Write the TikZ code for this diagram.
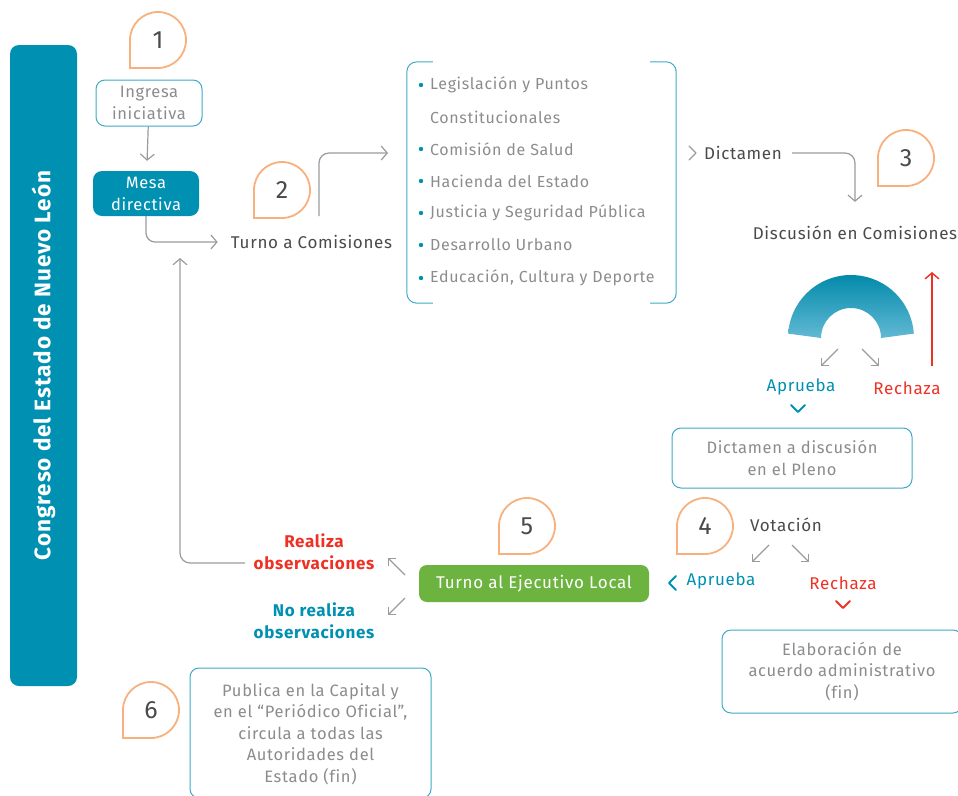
\documentclass[tikz,border=0pt]{standalone}
\usepackage{fontspec}
\setmainfont{Fira Sans}[LetterSpace=4,Ligatures=CommonOff]
\usetikzlibrary{arrows.meta,calc}
\definecolor{cteal}{HTML}{0090B2}
\definecolor{clight}{HTML}{62B9D4}
\definecolor{cbord}{HTML}{3FA9C6}
\definecolor{cgreen}{HTML}{6DB33F}
\definecolor{cred}{HTML}{EE3124}
\definecolor{corange}{HTML}{F8B07C}
\definecolor{cgray}{HTML}{9B9B9B}
\definecolor{cdark}{HTML}{4A4A4A}
\definecolor{cbox}{HTML}{8C8C8C}
\newcommand\bubble[4]{%
  \node[numtxt] (#1) at (#2,#3) {#4};
  \draw[bubbleline] (#2-28,#3) arc[start angle=180,end angle=450,radius=28] -- (#2-28,#3+28) -- cycle;}
\begin{document}
\begin{tikzpicture}[x=1pt,y=-1pt,
  boxw/.style={draw=cbord, line width=1pt, rounded corners=9pt, fill=white, align=center, text=cbox,
    font=\fontsize{16.5}{21.5}\selectfont, inner sep=0pt},
  boxf/.style={rounded corners=9pt, align=center, text=white, font=\fontsize{16.5}{22}\selectfont, inner sep=0pt},
  lbl/.style={text=cdark, font=\fontsize{17}{20}\selectfont, inner sep=2pt},
  lst/.style={text=cbox, font=\fontsize{16}{18}\selectfont, inner sep=0pt, anchor=west},
  numtxt/.style={text=cdark, font=\fontsize{25}{25}\selectfont, inner sep=0pt},
  bubbleline/.style={draw=corange, line width=1.8pt},
  garrow/.style={draw=cgray, line width=1.2pt, -{Straight Barb[length=6pt,width=14pt,line width=1.2pt]}},
  rarrow/.style={draw=cred, line width=1.4pt, -{Straight Barb[length=6pt,width=14pt,line width=1.4pt]}},
  diag/.style={draw=cgray, line width=1.3pt, -{Straight Barb[length=5.5pt,width=11pt,line width=1.3pt]}},
  chev/.style={line width=1.3pt, line cap=round, line join=round},
]
\useasboundingbox (0,0) rectangle (958,795);

% side bar
\node[fill=cteal, rounded corners=9pt, minimum width=67, minimum height=641] (bar) at (43.5,365.5) {};
\node[rotate=90, text=white, font=\bfseries\fontsize{22.5}{22.5}\selectfont] (bartxt) at (bar.center) {Congreso del Estado de Nuevo León};

% bubbles
\bubble{n1}{158}{40}{1}
\bubble{n2}{282}{190}{2}
\bubble{n3}{906}{158}{3}
\bubble{n4}{705}{526}{4}
\bubble{n5}{527}{526}{5}
\bubble{n6}{151}{710}{6}

% step 1
\node[boxw, minimum width=106, minimum height=46] (ing) at (149,103) {Ingresa\\iniciativa};
\node[boxf, fill=cteal, minimum width=106, minimum height=45] (mesa) at (146,193.5) {Mesa\\directiva};
\draw[garrow] (ing) -- (mesa) [shorten >=10pt];
\node[lbl] (turno) at (311.5,242) {Turno a Comisiones};
\draw[garrow, rounded corners=9pt, shorten >=11pt] (mesa.south) |- (turno.west);

% committees list
\node[minimum width=269, minimum height=241, inner sep=0pt] (list) at (541.5,182.5) {};
\draw[draw=cbord, line width=1pt, rounded corners=10pt]
  ($(list.north west)+(26,0)$) -- (list.north west) -- (list.south west) -- ($(list.south west)+(26,0)$);
\draw[draw=cbord, line width=1pt, rounded corners=10pt]
  ($(list.north east)+(-26,0)$) -- (list.north east) -- (list.south east) -- ($(list.south east)+(-26,0)$);
\foreach \yy/\tt/\bb in {85/Legislación y Puntos/1, 117/Constitucionales/0, 149/Comisión de Salud/1,
  181/Hacienda del Estado/1, 213/Justicia y Seguridad Pública/1, 245/Desarrollo Urbano/1,
  278/{Educación, Cultura y Deporte}/1}{
  \node[lst] at (430,\yy) {\tt};
  \ifnum\bb=1 \fill[cteal] (421,\yy) circle[radius=2.2];\fi
}
\coordinate (t2a) at (319,216);
\coordinate (t2b) at (388,153);
\draw[garrow, rounded corners=10pt] (t2a) |- (t2b);

% step 3
\draw[draw=cgray, chev] (689,146) -- (696,153) -- (689,160);
\node[lbl] (dict) at (743,153) {Dictamen};
\node[lbl] (disc) at (855,233) {Discusión en Comisiones};
\draw[garrow, rounded corners=10pt, shorten <=8pt, shorten >=22pt] (dict.east) -| (disc.north);

\shade[top color=cteal!95!black, bottom color=clight]
  (851,338) ++(184:63) arc[start angle=184,end angle=356,radius=63]
  -- (881,338) arc[start angle=360,end angle=180,radius=30] -- cycle;
\draw[diag] (838,349) -- (821,366);
\draw[diag] (862,349) -- (879,366);
\node[lbl, text=cteal] (apr1) at (801,387) {Aprueba};
\node[lbl, text=cred] (rec1) at (907,388) {Rechaza};
\coordinate (ra) at (932,366);
\coordinate (rb) at (932,272);
\draw[rarrow] (ra) -- (rb);
\draw[draw=cteal, chev, line width=2pt] (791,405) -- (798,412) -- (805,405);
\node[boxw, minimum width=240, minimum height=60] (pleno) at (792,458) {Dictamen a discusión\\en el Pleno};

% step 4
\node[lbl] (vot) at (786,525) {Votación};
\draw[diag] (769,545) -- (752,562);
\draw[diag] (792,545) -- (809,562);
\draw[draw=cteal, chev, line width=2pt] (676,576) -- (669,583) -- (676,590);
\node[lbl, text=cteal] (apr2) at (721,581) {Aprueba};
\node[lbl, text=cred] (rec2) at (843,583) {Rechaza};
\draw[draw=cred, chev, line width=2pt] (836,601) -- (843,608) -- (850,601);
\node[boxw, minimum width=240, minimum height=83] (elab) at (842,671.5) {Elaboración de\\acuerdo administrativo\\(fin)};

% step 5
\node[boxf, fill=cgreen, rounded corners=8pt, minimum width=230, minimum height=37,
  font=\fontsize{17}{20}\selectfont] (ejec) at (534,583.5) {Turno al Ejecutivo Local};
\draw[diag] (405,575) -- (388,558);
\draw[diag] (405,598) -- (388,615);
\node[lbl, text=cred, align=center, font=\bfseries\fontsize{17}{22}\selectfont] (real) at (314,552) {Realiza\\observaciones};
\node[lbl, text=cteal, align=center, font=\bfseries\fontsize{17}{22}\selectfont] (noreal) at (314,621) {No realiza\\observaciones};
\coordinate (rl) at (245,563);
\coordinate (rt) at (180,258);
\draw[garrow, rounded corners=10pt] (rl) -| (rt);

% step 6
\node[boxw, minimum width=241, minimum height=130, text depth=0pt] (pub) at (310.5,733)
  {Publica en la Capital y\\en el “Periódico Oficial”,\\circula a todas las\\Autoridades del\\Estado (fin)};
\end{tikzpicture}
\end{document}
